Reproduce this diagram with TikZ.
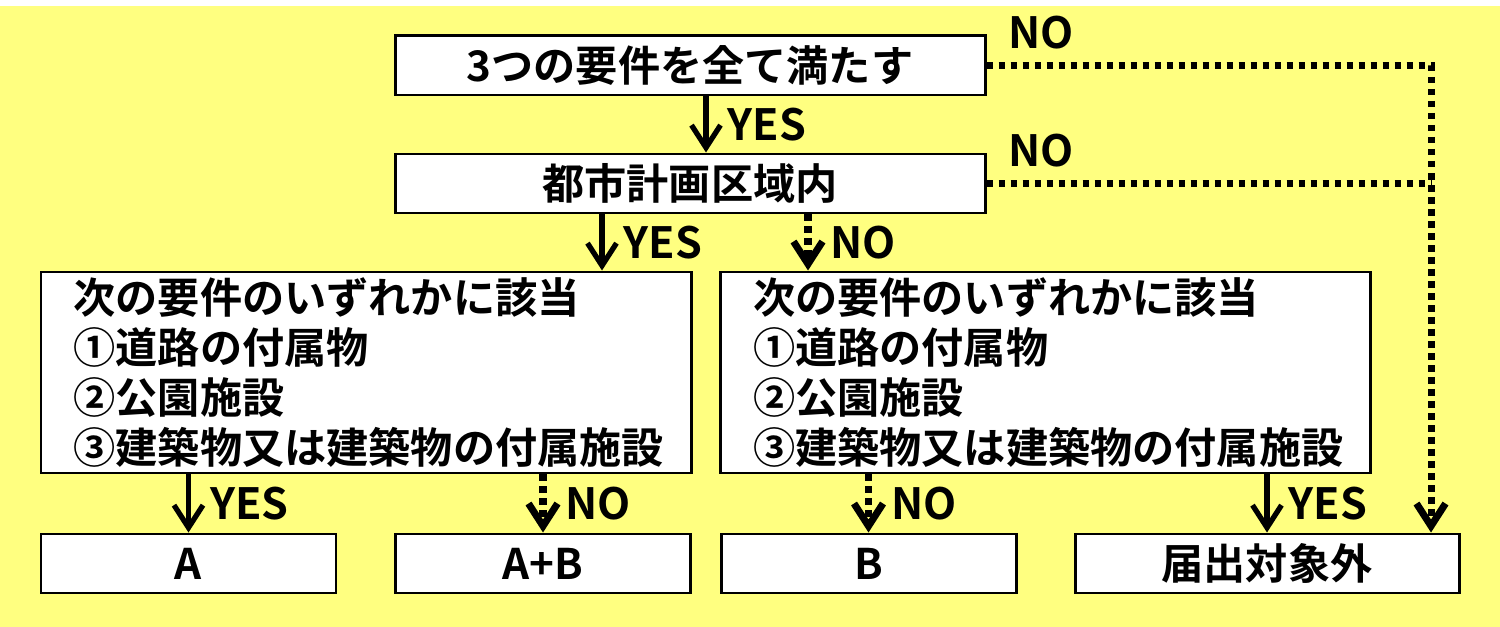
\documentclass[tikz,border=0pt]{standalone}
\usepackage{fontspec}
\setmainfont{Noto Sans CJK JP}[BoldFont={Noto Sans CJK JP Bold}]
\usepackage{xcolor}
\usetikzlibrary{arrows.meta,positioning,calc}
\definecolor{bgyellow}{HTML}{FFFF80}

\begin{document}
\begin{tikzpicture}[
    font=\bfseries\fontsize{24pt}{28.5pt}\selectfont,
    box/.style={
        draw=black,
        line width=1.7pt,
        fill=white,
        minimum width=11.8cm,
        minimum height=1.18cm,
        inner sep=0pt,
        align=center
    },
    cond/.style={
        box,
        minimum width=13cm,
        minimum height=4.02cm,
        text width=11.7cm,
        align=left
    },
    result/.style={box, minimum width=5.9cm},
    arr/.style={-{Straight Barb[length=0.45cm,width=0.58cm]}, line width=3pt},
    dotarr/.style={arr, line width=4pt, dash pattern=on 0.13cm off 0.11cm},
    dotline/.style={line width=4pt, dash pattern=on 0.13cm off 0.11cm},
    lbl/.style={font=\bfseries\fontsize{24.5pt}{28pt}\selectfont, inner sep=0pt}
]

\useasboundingbox (0,0) rectangle (30,-12.54);
\fill[bgyellow] (0,-0.12) rectangle (30,-12.54);

% questions
\node[box] (req) at (13.8,-1.31) {3つの要件を全て満たす};
\node[box] (city) at (13.8,-3.67) {都市計画区域内};

% conditions
\node[cond] (condL) at (7.32,-7.45)
{次の要件のいずれかに該当\\
①道路の付属物\\
②公園施設\\
③建築物又は建築物の付属施設};

\node[cond] (condR) at (20.91,-7.45)
{次の要件のいずれかに該当\\
①道路の付属物\\
②公園施設\\
③建築物又は建築物の付属施設};

% results
\node[result] (resA) at (3.77,-11.27) {A};
\node[result] (resAB) at (10.86,-11.27) {A+B};
\node[result] (resB) at (17.37,-11.27) {B};
\node[result, minimum width=7.68cm] (resOut) at (25.34,-11.27) {届出対象外};

\draw[arr] ([xshift=0.32cm]req.south) -- node[lbl, right=0.38cm] {YES} ([xshift=0.32cm]req.south |- city.north);
\draw[arr] ([xshift=-1.76cm]city.south) -- node[lbl, right=0.38cm] {YES} ([xshift=-1.76cm]city.south |- condL.north);
\draw[dotarr] ([xshift=2.36cm]city.south) -- node[lbl, right=0.38cm] {NO} ([xshift=2.36cm]city.south |- condR.north);

\draw[arr] (condL.south -| resA.north) -- node[lbl, right=0.38cm] {YES} (resA.north);
\draw[dotarr] (condL.south -| resAB.north) -- node[lbl, right=0.38cm] {NO} (resAB.north);
\draw[dotarr] (condR.south -| resB.north) -- node[lbl, right=0.38cm] {NO} (resB.north);
\draw[arr] (condR.south -| resOut.north) -- node[lbl, right=0.38cm] {YES} (resOut.north);

% NO branch on the right
\coordinate (noline) at ([xshift=3.28cm]resOut.north);
\draw[dotarr] (req.east) node[lbl, anchor=south west, xshift=0.36cm, yshift=0.26cm] {NO} -| (noline);
\draw[dotline] (city.east) node[lbl, anchor=south west, xshift=0.36cm, yshift=0.26cm] {NO} -- (city.east -| noline);

\end{tikzpicture}
\end{document}
